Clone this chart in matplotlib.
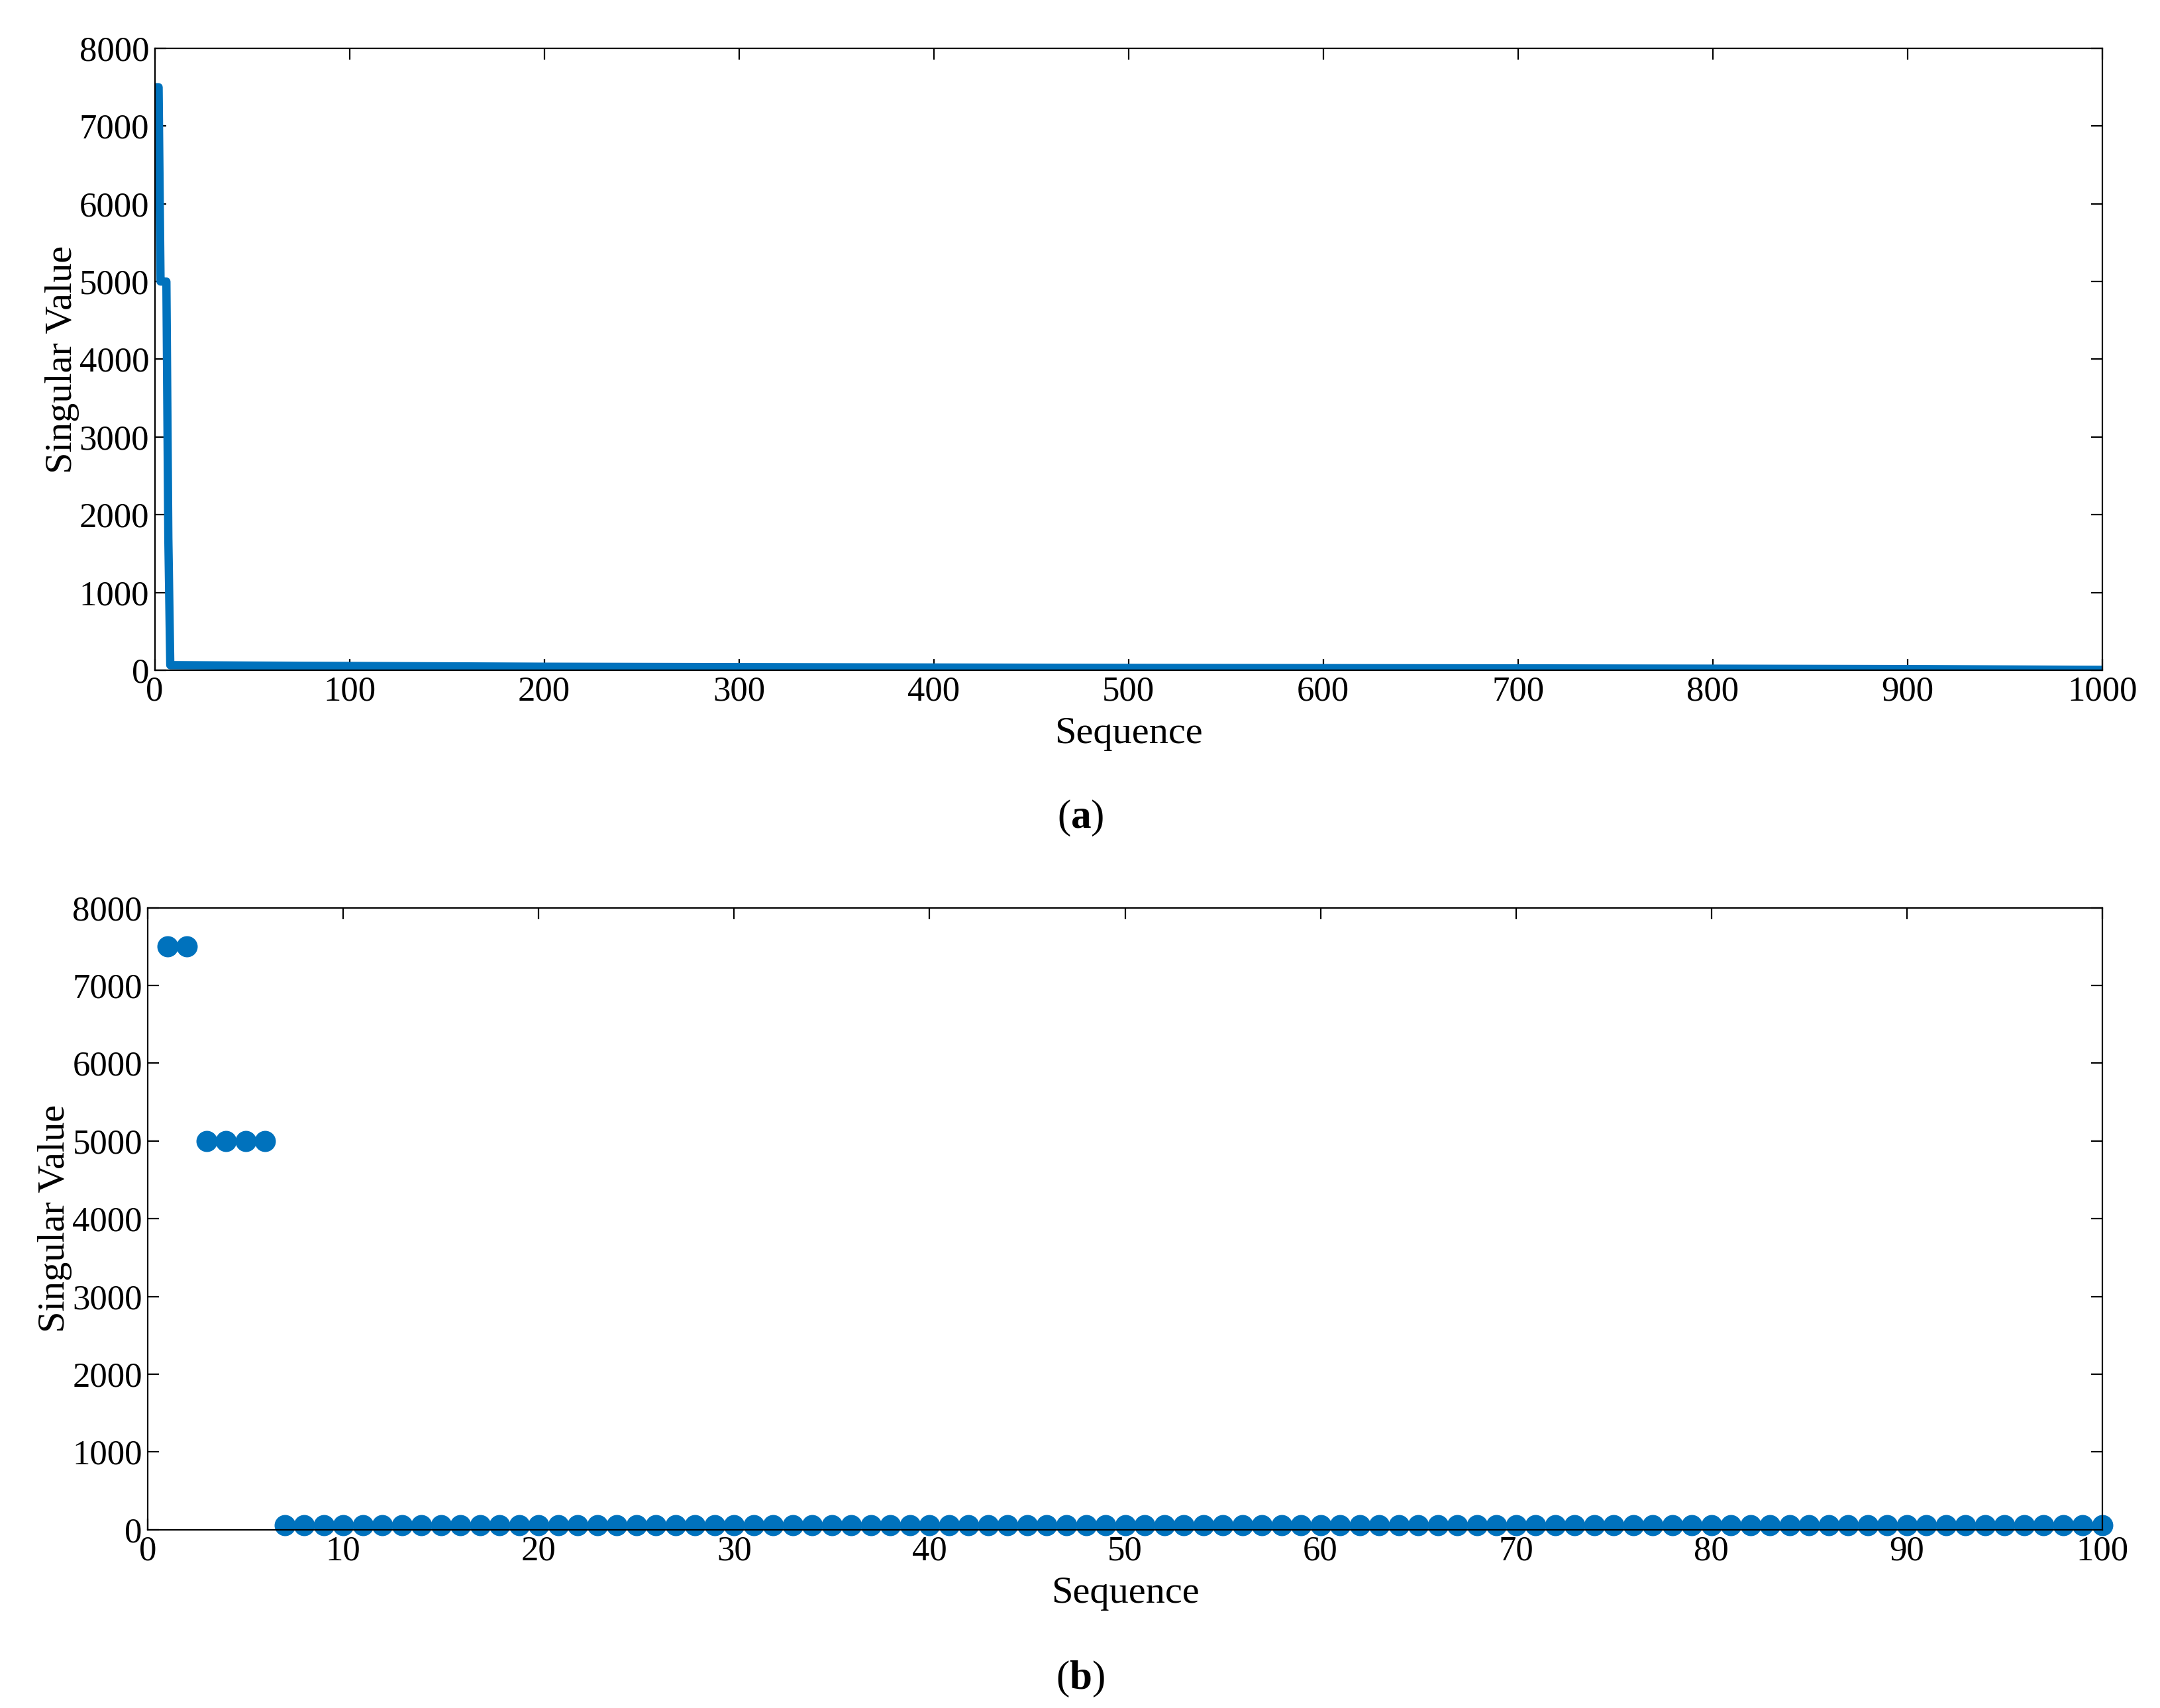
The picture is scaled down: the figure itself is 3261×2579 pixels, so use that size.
import numpy as np
import matplotlib.pyplot as plt

plt.rcParams['font.family'] = ['Liberation Serif', 'DejaVu Serif']
plt.rcParams['mathtext.fontset'] = 'custom'
plt.rcParams['mathtext.bf'] = 'Liberation Serif:bold'
plt.rcParams['mathtext.rm'] = 'Liberation Serif'

# (a) singular values at selected sequence positions
seq_a = [1, 2, 3, 4, 5, 6, 7, 8, 50, 100, 200, 300, 400, 500, 600, 700, 800, 900, 1000]
sv_a = [7500, 7500, 5000, 5000, 5000, 5000, 1700, 65, 60, 55, 45, 40, 35, 30, 27, 24, 20, 15, 5]

# (b) first 100 singular values
seq_b = list(range(1, 101))
sv_b = [7500, 7500, 5000, 5000, 5000, 5000] + [60] * 94

blue = '#0072BD'
fig = plt.figure(figsize=(16.31, 12.895), dpi=200)

ax1 = fig.add_axes([0.0716, 0.6076, 0.9014, 0.3641])
ax1.plot(seq_a, sv_a, color=blue, lw=4.5)
ax1.set_xlim(0, 1000)
ax1.set_ylim(0, 8000)
ax1.set_xticks(range(0, 1001, 100))
ax1.set_yticks(range(0, 8001, 1000))
ax1.set_xlabel('Sequence', fontsize=21, labelpad=5)
ax1.set_ylabel('Singular Value', fontsize=21, labelpad=0)

ax2 = fig.add_axes([0.0684, 0.1044, 0.9046, 0.3641])
ax2.plot(seq_b, sv_b, 'o', color=blue, ms=10.5, clip_on=False)
ax2.set_xlim(0, 100)
ax2.set_ylim(0, 8000)
ax2.set_xticks(range(0, 101, 10))
ax2.set_yticks(range(0, 8001, 1000))
ax2.set_xlabel('Sequence', fontsize=21, labelpad=5)
ax2.set_ylabel('Singular Value', fontsize=21, labelpad=0)

for ax in (ax1, ax2):
    ax.tick_params(direction='in', labelsize=19, top=True, right=True, length=6, pad=3)
    for s in ax.spines.values():
        s.set_linewidth(0.8)

fig.text(0.5, 0.521, r'($\mathbf{a}$)', ha='center', va='center', fontsize=22)
fig.text(0.5, 0.017, r'($\mathbf{b}$)', ha='center', va='center', fontsize=22)

fig.savefig('out.png')
